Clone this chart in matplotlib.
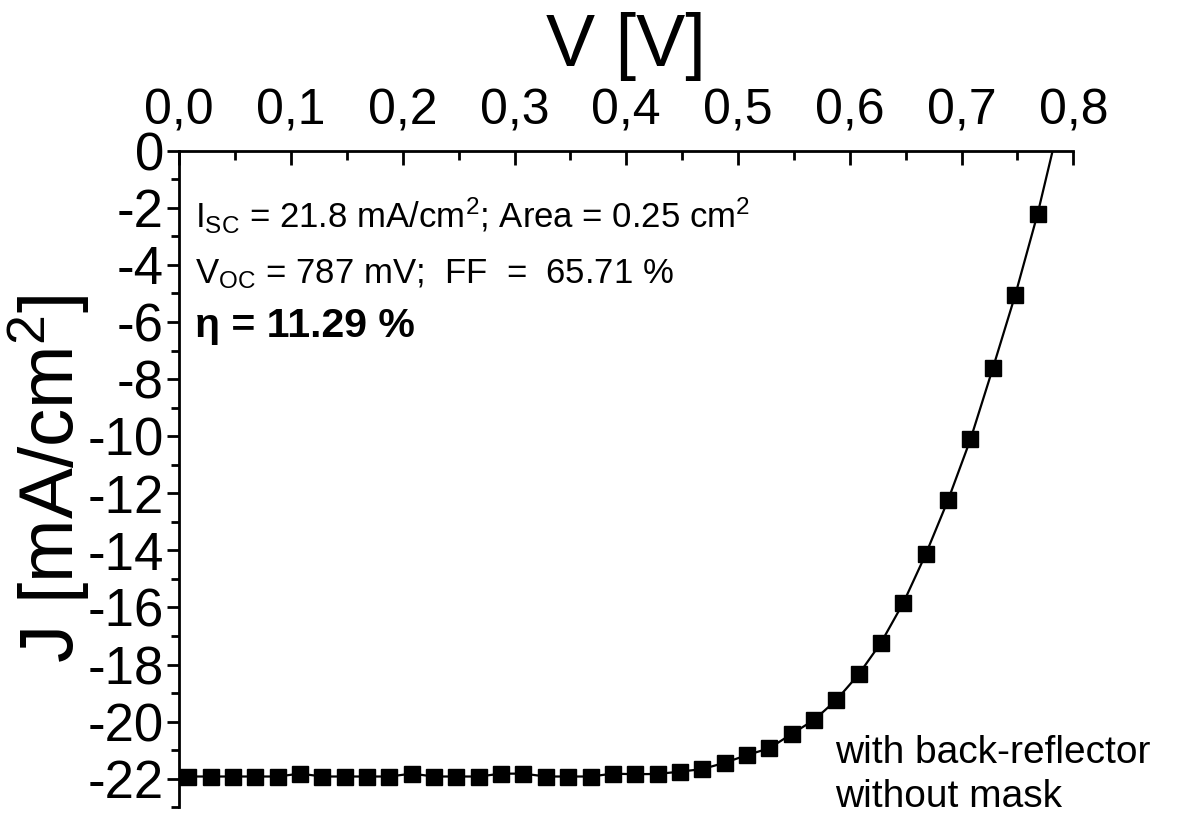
import numpy as np
import matplotlib
matplotlib.use('Agg')
import matplotlib.pyplot as plt
from matplotlib.ticker import MultipleLocator, FuncFormatter

voltage = [0.008, 0.028, 0.048, 0.068, 0.088, 0.108, 0.128, 0.148, 0.168, 0.188,
           0.208, 0.228, 0.248, 0.268, 0.288, 0.308, 0.328, 0.348, 0.368, 0.388,
           0.408, 0.428, 0.448, 0.468, 0.488, 0.508, 0.528, 0.548, 0.568, 0.588,
           0.608, 0.628, 0.648, 0.668, 0.688, 0.708, 0.728, 0.748, 0.768]
current = [-21.92, -21.92, -21.92, -21.92, -21.92, -21.82, -21.92, -21.92, -21.92, -21.92,
           -21.82, -21.92, -21.92, -21.92, -21.82, -21.82, -21.92, -21.92, -21.92, -21.82,
           -21.84, -21.83, -21.75, -21.66, -21.44, -21.17, -20.93, -20.43, -19.94, -19.24,
           -18.34, -17.23, -15.83, -14.13, -12.23, -10.11, -7.62, -5.06, -2.22]

# fitted line continues past the last point up to the axis
tail_v = [0.785]
tail_j = [0.57]

info_lines = [r'I$_{\mathregular{SC}}$ = 21.8 mA/cm$^{\mathregular{2}}$; Area = 0.25 cm$^{\mathregular{2}}$',
              r'V$_{\mathregular{OC}}$ = 787 mV;  FF  =  65.71 %']
eta_text = 'η = 11.29 %'
sample_lines = ['with back-reflector', 'without mask']

plt.rcParams['font.family'] = ['Liberation Sans', 'DejaVu Sans']
plt.rcParams['mathtext.fontset'] = 'custom'
plt.rcParams['mathtext.rm'] = 'Liberation Sans'
plt.rcParams['mathtext.it'] = 'Liberation Sans:italic'
plt.rcParams['mathtext.bf'] = 'Liberation Sans:bold'
plt.rcParams['axes.unicode_minus'] = False


def comma_fmt(x, pos):
    return f'{x:.1f}'.replace('.', ',')


fig = plt.figure(figsize=(11.77, 8.15), dpi=100)
ax = fig.add_axes([0.1523, 0.0094, 0.7596, 0.8057])

ax.plot(voltage + tail_v, current + tail_j, color='black', lw=1.6, zorder=2)
ax.plot(voltage, current, ls='none', marker='s', ms=11.5, color='black', zorder=3)

ax.set_xlim(0, 0.8)
ax.set_ylim(-23, 0)

# only top and left axis lines
ax.spines['bottom'].set_visible(False)
ax.spines['right'].set_visible(False)
ax.spines['top'].set_linewidth(2)
ax.spines['left'].set_linewidth(2)

ax.xaxis.tick_top()
ax.xaxis.set_label_position('top')
ax.xaxis.set_major_locator(MultipleLocator(0.1))
ax.xaxis.set_minor_locator(MultipleLocator(0.05))
ax.xaxis.set_major_formatter(FuncFormatter(comma_fmt))
ax.tick_params(axis='x', which='both', direction='in', width=2, labelsize=36, pad=12,
               top=True, bottom=False)
ax.tick_params(axis='x', which='major', length=10)
ax.tick_params(axis='x', which='minor', length=6.5)

ax.yaxis.set_major_locator(MultipleLocator(2))
ax.yaxis.set_minor_locator(MultipleLocator(1))
ax.tick_params(axis='y', which='both', direction='out', width=2, labelsize=38, pad=2,
               left=True, right=False)
ax.tick_params(axis='y', which='major', length=9)
ax.tick_params(axis='y', which='minor', length=5.5)

ax.set_xlabel('V [V]', fontsize=53, labelpad=16)
ax.set_ylabel(r'J [mA/cm$^{\mathregular{2}}$]', fontsize=55, labelpad=-3)

ax.text(0.0176, 0.882, info_lines[0], transform=ax.transAxes, fontsize=25, va='baseline')
ax.text(0.0176, 0.7985, info_lines[1], transform=ax.transAxes, fontsize=25, va='baseline')
ax.text(0.0176, 0.716, eta_text, transform=ax.transAxes, fontsize=29.5, fontweight='bold',
        va='baseline')
ax.text(0.733, 0.0675, sample_lines[0], transform=ax.transAxes, fontsize=28,
        va='baseline', clip_on=False)
ax.text(0.733, 0.0, sample_lines[1], transform=ax.transAxes, fontsize=28,
        va='baseline', clip_on=False)

fig.savefig('out.png', dpi=100)
